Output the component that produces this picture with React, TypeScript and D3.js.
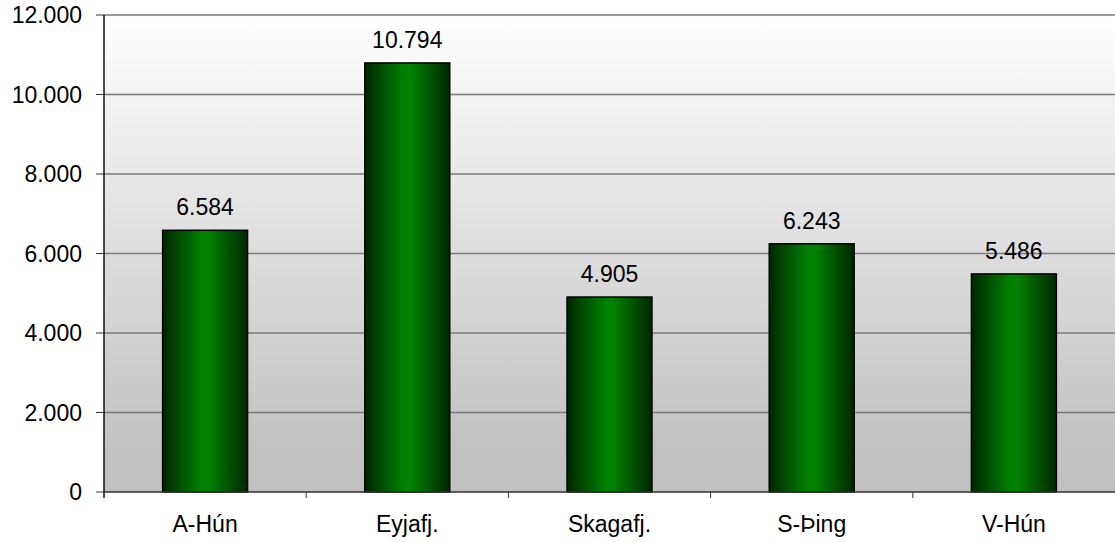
import React from "react";
import * as d3 from "d3";

const categories = ["A-Hún", "Eyjafj.", "Skagafj.", "S-Þing", "V-Hún"];
const values = [6584, 10794, 4905, 6243, 5486];
const yTicks = [0, 2000, 4000, 6000, 8000, 10000, 12000];

const W = 1115;
const H = 542;
const margin = { left: 104, right: 0, top: 15, bottom: 50 };

const locale = d3.formatLocale({ decimal: ",", thousands: ".", grouping: [3], currency: ["", " kr."] });
const fmt = locale.format(",d");

export default function App() {
  const x = d3
    .scaleBand<string>()
    .domain(categories)
    .range([margin.left, W - margin.right])
    .paddingInner(0.58)
    .paddingOuter(0.29);
  const band = d3.scaleBand<string>().domain(categories).range([margin.left, W - margin.right]);
  const y = d3.scaleLinear().domain([0, 12000]).range([H - margin.bottom, margin.top]);
  const y0 = y(0);
  const font = "'Liberation Sans', Arial, sans-serif";
  const fs = 23;

  return (
    <svg width={W} height={H} style={{ position: "absolute", left: 0, top: 0 }}>
      <defs>
        <linearGradient id="bg" x1="0" y1="0" x2="0" y2="1">
          <stop offset="0" stopColor="#ffffff" />
          <stop offset="0.9" stopColor="#c2c2c2" />
          <stop offset="1" stopColor="#c0c0c0" />
        </linearGradient>
        <linearGradient id="bar" x1="0" y1="0" x2="1" y2="0">
          <stop offset="0" stopColor="#002600" />
          <stop offset="0.45" stopColor="#008000" />
          <stop offset="0.55" stopColor="#008000" />
          <stop offset="1" stopColor="#002600" />
        </linearGradient>
      </defs>
      <rect x={0} y={0} width={W} height={H} fill="#ffffff" />
      <rect x={margin.left} y={y(12000)} width={W - margin.left} height={y0 - y(12000)} fill="url(#bg)" />
      {yTicks.map((t) => (
        <g key={t}>
          {t > 0 && (
            <line x1={margin.left} x2={W} y1={y(t)} y2={y(t)} stroke="#7a7a7a" strokeWidth={1.5} />
          )}
          <line x1={margin.left - 8} x2={margin.left} y1={y(t)} y2={y(t)} stroke="#333" strokeWidth={1} />
          <text x={margin.left - 22} y={y(t)} dy="0.35em" textAnchor="end" fontFamily={font} fontSize={fs} fill="#000">
            {fmt(t)}
          </text>
        </g>
      ))}
      {categories.map((c, i) => {
        const bx = x(c)!;
        const bw = x.bandwidth();
        const by = y(values[i]);
        return (
          <g key={c}>
            <rect x={bx} y={by} width={bw} height={y0 - by} fill="url(#bar)" stroke="#000" strokeWidth={1.5} />
            <text x={bx + bw / 2} y={by - 15} textAnchor="middle" fontFamily={font} fontSize={fs} fill="#000">
              {fmt(values[i])}
            </text>
            <text x={band(c)! + band.bandwidth() / 2} y={y0 + 40} textAnchor="middle" fontFamily={font} fontSize={fs} fill="#000">
              {c}
            </text>
          </g>
        );
      })}
      {categories.map((c, i) =>
        i > 0 ? (
          <line key={"t" + c} x1={band(c)!} x2={band(c)!} y1={y0} y2={y0 + 6} stroke="#333" strokeWidth={1} />
        ) : null
      )}
      <line x1={margin.left} x2={W} y1={y0} y2={y0} stroke="#333" strokeWidth={1.5} />
      <line x1={margin.left} x2={margin.left} y1={y(12000)} y2={y0 + 6} stroke="#111" strokeWidth={1.5} />
    </svg>
  );
}
